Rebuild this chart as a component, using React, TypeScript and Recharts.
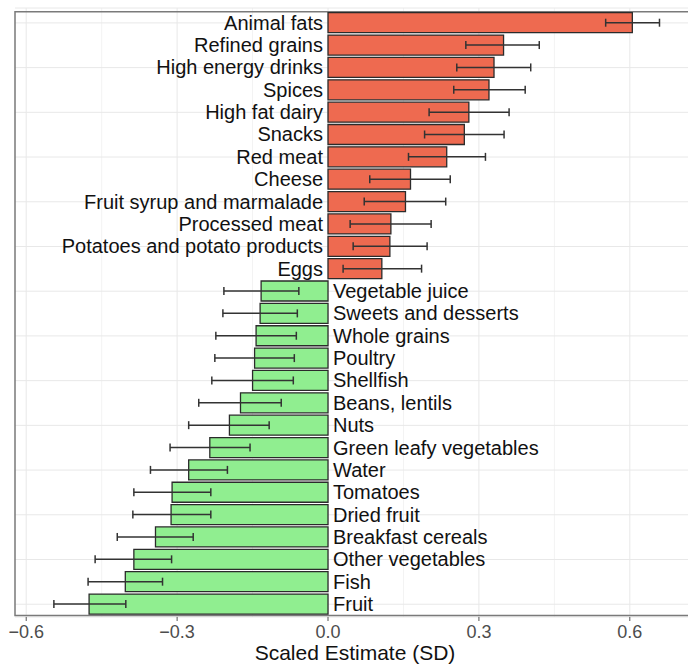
import {
  BarChart, Bar, XAxis, YAxis, CartesianGrid, ErrorBar,
  LabelList, ReferenceArea, Cell, Label,
} from "recharts";

// ── Data (top row first) ─────────────────────────────────────────────────────

const FOODS = [
  "Animal fats", "Refined grains", "High energy drinks", "Spices",
  "High fat dairy", "Snacks", "Red meat", "Cheese",
  "Fruit syrup and marmalade", "Processed meat",
  "Potatoes and potato products", "Eggs",
  "Vegetable juice", "Sweets and desserts", "Whole grains", "Poultry",
  "Shellfish", "Beans, lentils", "Nuts", "Green leafy vegetables",
  "Water", "Tomatoes", "Dried fruit", "Breakfast cereals",
  "Other vegetables", "Fish", "Fruit",
];

const ESTIMATE = [
  0.605, 0.349, 0.330, 0.320, 0.280, 0.271, 0.236, 0.164, 0.154, 0.125,
  0.123, 0.107,
  -0.133, -0.135, -0.143, -0.146, -0.150, -0.174, -0.196, -0.235,
  -0.277, -0.310, -0.312, -0.343, -0.386, -0.403, -0.475,
];

const CI_LOW = [
  0.552, 0.274, 0.256, 0.250, 0.201, 0.192, 0.160, 0.083, 0.072, 0.044,
  0.050, 0.030,
  -0.207, -0.209, -0.223, -0.225, -0.231, -0.257, -0.277, -0.314,
  -0.353, -0.386, -0.388, -0.419, -0.463, -0.477, -0.545,
];

const CI_HIGH = [
  0.659, 0.420, 0.403, 0.392, 0.360, 0.350, 0.313, 0.243, 0.234, 0.205,
  0.197, 0.186,
  -0.058, -0.061, -0.063, -0.067, -0.069, -0.093, -0.117, -0.155,
  -0.200, -0.233, -0.233, -0.268, -0.311, -0.329, -0.402,
];

const X_TICKS = [-0.6, -0.3, 0, 0.3, 0.6];
const X_MINOR = [-0.45, -0.15, 0.15, 0.45];
const X_DOMAIN: [number, number] = [-0.6223, 0.7296];

const POS_FILL = "#EE6A50";
const NEG_FILL = "#90EE90";
const FONT = "'Liberation Sans', Arial, Helvetica, sans-serif";

const rows = FOODS.map((name, i) => ({
  name,
  est: ESTIMATE[i],
  err: [ESTIMATE[i] - CI_LOW[i], CI_HIGH[i] - ESTIMATE[i]],
}));

const signOf = new Map(FOODS.map((n, i) => [n, ESTIMATE[i] >= 0 ? 1 : -1]));

const fmtTick = (v: number) => v.toFixed(1).replace("-", "\u2212");

// labels sit at the zero line: left of it for positive bars, right for negative
function FoodLabel(props: any) {
  const vb = props.viewBox ?? props;
  const x = Number(vb.x), w = Number(vb.width);
  const y = Number(vb.y), h = Number(vb.height);
  const sign = signOf.get(props.value) ?? 1;
  const zero = sign > 0 ? Math.min(x, x + w) : Math.max(x, x + w);
  return (
    <text
      x={sign > 0 ? zero - 5 : zero + 5}
      y={y + h / 2}
      dy="0.35em"
      textAnchor={sign > 0 ? "end" : "start"}
      fontSize={20}
      fontFamily={FONT}
      fill="#111"
    >
      {props.value}
    </text>
  );
}

export default function App() {
  return (
    <div style={{
      position: "absolute", left: 0, top: 0, width: 688, height: 664,
      overflow: "hidden", background: "#fff", fontFamily: FONT,
    }}>
      <BarChart
        width={700}
        height={664}
        data={rows}
        layout="vertical"
        margin={{ top: 8, right: 5, left: 15, bottom: 0 }}
      >
        <CartesianGrid
          horizontal={false}
          verticalValues={X_MINOR}
          stroke="#F3F3F3"
        />
        <CartesianGrid
          verticalValues={X_TICKS}
          stroke="#E8E8E8"
        />
        <XAxis
          type="number"
          domain={X_DOMAIN}
          allowDataOverflow
          ticks={X_TICKS}
          tickFormatter={fmtTick}
          axisLine={false}
          tickLine={{ stroke: "#555" }}
          tickSize={4}
          tickMargin={4}
          height={47}
          tick={{ fontSize: 18, fill: "#4D4D4D", fontFamily: FONT }}
        >
          <Label
            value="Scaled Estimate (SD)"
            position="insideBottom"
            offset={4}
            style={{ fontSize: 21, fill: "#111", fontFamily: FONT }}
          />
        </XAxis>
        <YAxis
          type="category"
          dataKey="name"
          hide
          padding={{ top: 3.7, bottom: 1.6 }}
        />
        <Bar
          dataKey="est"
          barSize={20}
          stroke="#2b2b2b"
          strokeWidth={1.3}
          isAnimationActive={false}
        >
          {rows.map((r) => (
            <Cell key={r.name} fill={r.est >= 0 ? POS_FILL : NEG_FILL} />
          ))}
          <ErrorBar
            dataKey="err"
            direction="x"
            width={4}
            stroke="#333"
            strokeWidth={1.5}
          />
          <LabelList dataKey="name" content={FoodLabel} />
        </Bar>
        <ReferenceArea
          x1={X_DOMAIN[0]}
          x2={X_DOMAIN[1]}
          fill="none"
          stroke="#7a7a7a"
          strokeWidth={1.5}
          ifOverflow="visible"
        />
      </BarChart>
    </div>
  );
}
